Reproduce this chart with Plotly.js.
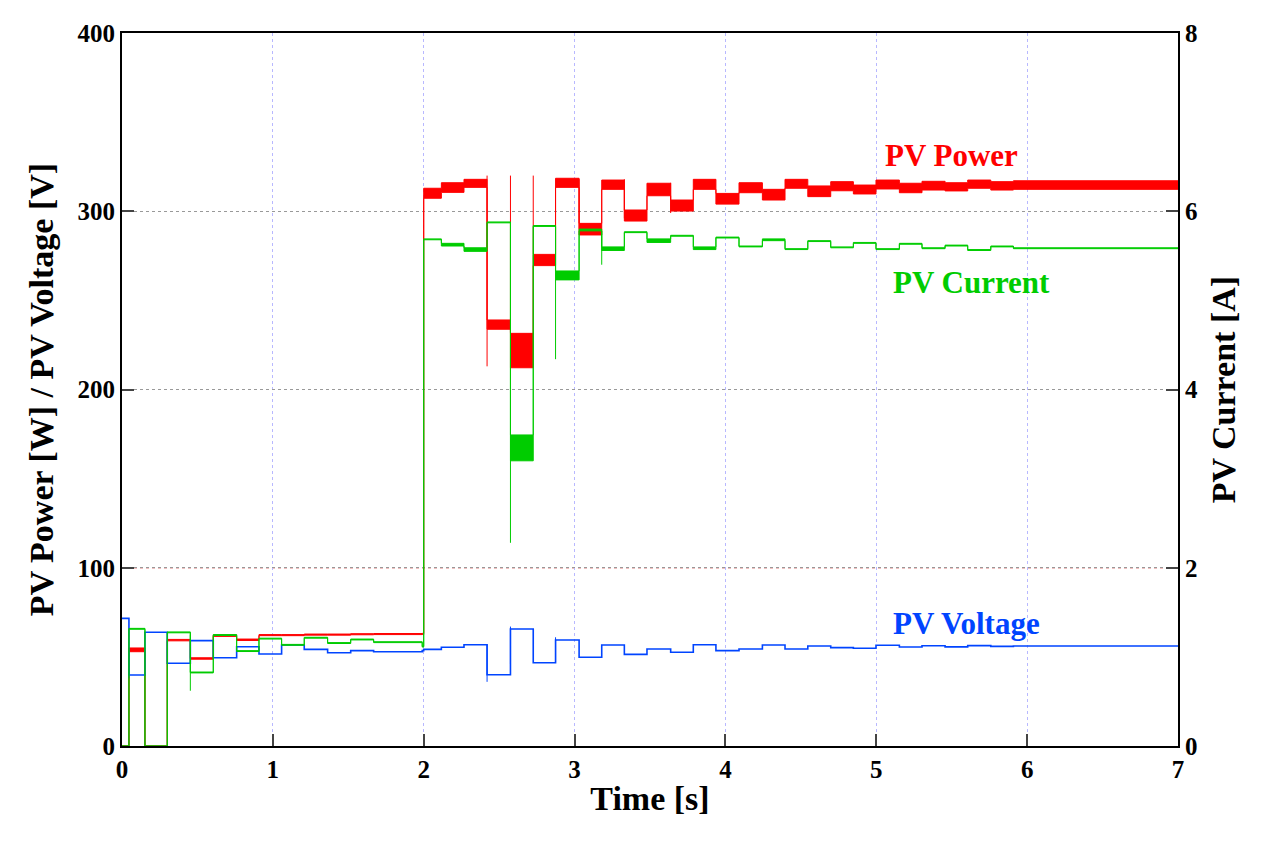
<!DOCTYPE html>
<html>
<head>
<meta charset="utf-8">
<script src="https://cdn.plot.ly/plotly-3.0.1.min.js"></script>
<style>body{margin:0;background:#fff}#graph{width:1280px;height:852px}</style>
</head>
<body>
<div id="graph"></div>
<script>
// step start times [s] for the MPPT steps
var preTime = [0, 0.046, 0.152, 0.30, 0.453, 0.605, 0.76, 0.908, 1.058, 1.208, 1.363, 1.516, 1.668, 1.99];
var postTime = [2.0, 2.117, 2.267, 2.42, 2.575, 2.726, 2.874, 3.03, 3.18, 3.33, 3.48, 3.637, 3.787, 3.937,
                4.09, 4.245, 4.395, 4.546, 4.698, 4.848, 4.998, 5.153, 5.303, 5.456, 5.606, 5.759, 5.909, 7.0];

// PV power [W], ripple band upper / lower edge
var powerPreHi = [0, 55, 0, 59.8, 49.5, 62.3, 60, 62.5, 62.5, 62.8, 62.8, 63, 63.1, 63.2];
var powerPreLo = [0, 52.9, 0, 59.0, 48.7, 61.5, 59.2, 61.9, 61.9, 62.2, 62.2, 62.4, 62.5, 62.6];
var powerPostHi = [312.9, 316.0, 317.9, 239.0, 231.5, 275.8, 318.5, 293.2, 317.5, 300.7, 315.7, 306.3, 317.9, 310,
                   316, 312.3, 317.9, 314.2, 316.6, 314.7, 317.5, 315.7, 316.8, 316, 317.5, 316.6, 317.1, 317.1];
var powerPostLo = [307.3, 310.6, 313.4, 233.8, 212.2, 269.5, 313.4, 286.7, 312.3, 294.5, 308.7, 300.1, 312.3, 304,
                   310.4, 306.3, 312.9, 308.2, 311.5, 309.7, 312.5, 310.4, 311.9, 311.4, 312.9, 311.9, 312.3, 312.3];

// PV current [A]
var currentPreHi = [0, 1.32, 0, 1.28, 0.83, 1.25, 1.07, 1.21, 1.14, 1.22, 1.16, 1.20, 1.17, 1.12];
var currentPreLo = [0, 1.31, 0, 1.27, 0.82, 1.24, 1.06, 1.20, 1.13, 1.21, 1.15, 1.19, 1.16, 1.11];
var currentPostHi = [5.69, 5.64, 5.59, 5.88, 3.49, 5.84, 5.33, 5.80, 5.60, 5.77, 5.69, 5.73, 5.60, 5.71,
                     5.61, 5.69, 5.58, 5.67, 5.60, 5.65, 5.58, 5.64, 5.59, 5.62, 5.57, 5.61, 5.59, 5.59];
var currentPostLo = [5.68, 5.61, 5.55, 5.87, 3.20, 5.83, 5.23, 5.78, 5.56, 5.76, 5.65, 5.72, 5.57, 5.70,
                     5.60, 5.67, 5.57, 5.66, 5.59, 5.64, 5.57, 5.63, 5.58, 5.61, 5.56, 5.60, 5.58, 5.58];

// PV voltage [V]
var voltagePre = [71.6, 39.8, 63.8, 46.4, 59.1, 49.5, 55.7, 51.6, 56.7, 54.2, 52.3, 53.5, 52.9, 53.5];
var voltagePost = [54.2, 55.4, 56.8, 40.0, 65.6, 46.7, 59.5, 49.8, 56.7, 51.4, 54.4, 52.6, 56.8, 53.5,
                   54.4, 56.7, 54.4, 56.1, 55.2, 54.8, 56.5, 55.5, 56.2, 55.6, 56.3, 55.9, 56.1, 56.1];

// switching transients: [time, from, to]
var powerSpikes = [[2.42, 320, 213], [2.575, 320, 232], [2.726, 320, 276], [3.03, 318, 290], [3.33, 318, 296], [3.637, 316, 299]];
var currentSpikes = [[2.575, 5.88, 2.28], [2.874, 5.83, 4.34], [3.18, 5.78, 5.40], [0.453, 1.25, 0.62]];
var voltageSpikes = [[2.42, 57, 36], [2.575, 46, 67], [2.874, 47, 61], [0.046, 52, 38]];

var time = preTime.concat(postTime);
function seg(sp) {
    var x = [], y = [];
    sp.forEach(function(s) { x.push(s[0], s[0], null); y.push(s[1], s[2], null); });
    return {x: x, y: y};
}

var red = '#ff0000', green = '#00cc00', blue = '#0044ff';
var ps = seg(powerSpikes), cs = seg(currentSpikes), vs = seg(voltageSpikes);

var traces = [
    {x: time, y: currentPreLo.concat(currentPostLo), yaxis: 'y2', mode: 'lines', line: {shape: 'hv', color: green, width: 1}},
    {x: time, y: currentPreHi.concat(currentPostHi), yaxis: 'y2', mode: 'lines', fill: 'tonexty', fillcolor: green, line: {shape: 'hv', color: green, width: 1}},
    {x: cs.x, y: cs.y, yaxis: 'y2', mode: 'lines', line: {color: green, width: 1}},
    {x: time, y: powerPreLo.concat(powerPostLo), mode: 'lines', line: {shape: 'hv', color: red, width: 1}},
    {x: time, y: powerPreHi.concat(powerPostHi), mode: 'lines', fill: 'tonexty', fillcolor: red, line: {shape: 'hv', color: red, width: 1}},
    {x: ps.x, y: ps.y, mode: 'lines', line: {color: red, width: 1}},
    {x: time, y: voltagePre.concat(voltagePost), mode: 'lines', line: {shape: 'hv', color: blue, width: 1.6}},
    {x: vs.x, y: vs.y, mode: 'lines', line: {color: blue, width: 1}}
];

var font = 'Liberation Serif, Times New Roman, serif';
var tickFont = {family: font, size: 25, color: '#000', weight: 'bold'};
var titleFont = {family: font, size: 34, color: '#000', weight: 'bold'};
var layout = {
    width: 1280, height: 852,
    margin: {l: 122, r: 102, t: 33, b: 106},
    showlegend: false,
    plot_bgcolor: '#fff', paper_bgcolor: '#fff',
    font: {family: font, size: 22, color: '#000', weight: 'bold'},
    xaxis: {
        range: [0, 7], dtick: 1, ticks: 'inside', ticklen: 12, tickwidth: 2,
        showline: true, linewidth: 2, linecolor: '#000', mirror: true,
        showgrid: true, gridcolor: '#b8b8ff', griddash: 'dot', gridwidth: 1, zeroline: false,
        tickfont: tickFont,
        title: {text: 'Time [s]', font: titleFont, standoff: 4}
    },
    yaxis: {
        range: [0, 400], dtick: 100, ticks: 'inside', ticklen: 12, tickwidth: 2,
        showline: true, linewidth: 2, linecolor: '#000',
        showgrid: true, gridcolor: '#999', griddash: 'dot', gridwidth: 1, zeroline: false,
        tickfont: tickFont,
        title: {text: 'PV Power [W] / PV Voltage [V]', font: titleFont, standoff: 14}
    },
    yaxis2: {
        range: [0, 8], dtick: 2, overlaying: 'y', side: 'right', ticks: 'inside', ticklen: 12, tickwidth: 2,
        showline: true, linewidth: 2, linecolor: '#000', showgrid: false, zeroline: false,
        tickfont: tickFont,
        title: {text: 'PV Current [A]', font: titleFont, standoff: 14}
    },
    shapes: [{type: 'line', xref: 'paper', x0: 0, x1: 1, yref: 'y', y0: 100, y1: 100, line: {color: '#cc0000', width: 1, dash: 'dot'}, layer: 'below'}],
    annotations: [
        {x: 5.5, y: 331, text: 'PV Power', showarrow: false, font: {family: font, size: 31, color: red, weight: 'bold'}},
        {x: 5.63, y: 260, text: 'PV Current', showarrow: false, font: {family: font, size: 31, color: green, weight: 'bold'}},
        {x: 5.6, y: 69, text: 'PV Voltage', showarrow: false, font: {family: font, size: 31, color: blue, weight: 'bold'}}
    ]
};

Plotly.newPlot('graph', traces, layout, {displayModeBar: false});
</script>
</body>
</html>
